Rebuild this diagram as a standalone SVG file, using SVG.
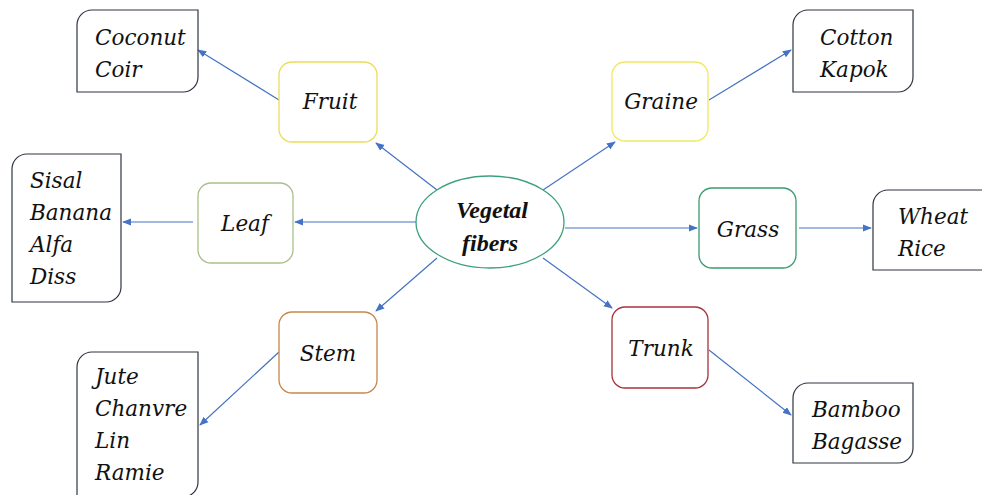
<svg xmlns="http://www.w3.org/2000/svg" width="982" height="495" viewBox="0 0 982 495">
<defs>
<marker id="ah" viewBox="0 0 10 10" refX="9" refY="5" markerWidth="9" markerHeight="9" markerUnits="userSpaceOnUse" orient="auto">
<path d="M0,1 L10,5 L0,9 Z" fill="#4472C4"/>
</marker>
<style>
text{fill:#111;font-style:italic}
.t{font-family:'DejaVu Serif',serif;font-size:21.5px}
.c{font-family:'Liberation Serif',serif;font-weight:bold;font-size:24px}
.out{fill:#fff;stroke:#2E3440;stroke-width:1.2}
.mid{fill:#fff;stroke-width:1.3}
.con line{stroke:#4472C4;stroke-width:1.2;marker-end:url(#ah)}
</style>
</defs>
<rect width="982" height="495" fill="#fff"/>
<g class="con" id="connectors">
<line x1="437" y1="190" x2="376" y2="143"/>
<line x1="543" y1="190" x2="615" y2="142"/>
<line x1="416" y1="222" x2="295" y2="222"/>
<line x1="565" y1="228" x2="697" y2="228"/>
<line x1="437" y1="258" x2="376" y2="311"/>
<line x1="543" y1="258" x2="612" y2="308"/>
<line x1="279" y1="100" x2="198" y2="50"/>
<line x1="709" y1="100" x2="791" y2="50"/>
<line x1="193" y1="222" x2="123" y2="222"/>
<line x1="799" y1="228" x2="871" y2="228"/>
<line x1="279" y1="352" x2="200" y2="425"/>
<line x1="709" y1="350" x2="791" y2="415"/>
</g>
<g id="center">
<ellipse cx="490" cy="222" rx="74" ry="46" fill="#fff" stroke="#3CA07A" stroke-width="1.3"/>
<text class="c" x="492" y="218" text-anchor="middle">Vegetal</text>
<text class="c" x="490" y="251" text-anchor="middle">fibers</text>
</g>
<g id="fruit">
<rect class="mid" x="279" y="62" width="98" height="80" rx="13" stroke="#EDDC5A"/>
<text class="t" x="330" y="109" text-anchor="middle">Fruit</text>
</g>
<g id="graine">
<rect class="mid" x="612" y="62" width="96" height="79" rx="13" stroke="#F0E860"/>
<text class="t" x="661" y="109" text-anchor="middle">Graine</text>
</g>
<g id="leaf">
<rect class="mid" x="198" y="183" width="95" height="80" rx="13" stroke="#A9C08A"/>
<text class="t" x="245" y="231" text-anchor="middle">Leaf</text>
</g>
<g id="grass">
<rect class="mid" x="699" y="188" width="97" height="80" rx="13" stroke="#3A9A70"/>
<text class="t" x="748" y="237" text-anchor="middle">Grass</text>
</g>
<g id="stem">
<rect class="mid" x="279" y="312" width="98" height="81" rx="13" stroke="#C8864A"/>
<text class="t" x="328" y="361" text-anchor="middle">Stem</text>
</g>
<g id="trunk">
<rect class="mid" x="612" y="307" width="96" height="81" rx="13" stroke="#A8323C"/>
<text class="t" x="661" y="356" text-anchor="middle">Trunk</text>
</g>
<g id="coconut">
<path class="out" d="M77,25 A15,15 0 0 1 92,10 H198 V77 A15,15 0 0 1 183,92 H77 Z"/>
<text class="t" x="95" y="45">Coconut</text>
<text class="t" x="95" y="77">Coir</text>
</g>
<g id="cotton">
<path class="out" d="M793,25 A15,15 0 0 1 808,10 H913 V77 A15,15 0 0 1 898,92 H793 Z"/>
<text class="t" x="820" y="45">Cotton</text>
<text class="t" x="820" y="77">Kapok</text>
</g>
<g id="sisal">
<path class="out" d="M12,169 A15,15 0 0 1 27,154 H121 V287 A15,15 0 0 1 106,302 H12 Z"/>
<text class="t" x="30" y="188">Sisal</text>
<text class="t" x="30" y="220">Banana</text>
<text class="t" x="30" y="252">Alfa</text>
<text class="t" x="30" y="284">Diss</text>
</g>
<g id="wheat">
<path class="out" d="M873,205 A15,15 0 0 1 888,190 H990 V270 H873 Z"/>
<text class="t" x="898" y="224">Wheat</text>
<text class="t" x="898" y="256">Rice</text>
</g>
<g id="jute">
<path class="out" d="M77,367 A15,15 0 0 1 92,352 H198 V482 A15,15 0 0 1 183,497 H77 Z"/>
<text class="t" x="95" y="384">Jute</text>
<text class="t" x="95" y="416">Chanvre</text>
<text class="t" x="95" y="448">Lin</text>
<text class="t" x="95" y="480">Ramie</text>
</g>
<g id="bamboo">
<path class="out" d="M793,398 A15,15 0 0 1 808,383 H913 V448 A15,15 0 0 1 898,463 H793 Z"/>
<text class="t" x="812" y="417">Bamboo</text>
<text class="t" x="812" y="449">Bagasse</text>
</g>
</svg>
